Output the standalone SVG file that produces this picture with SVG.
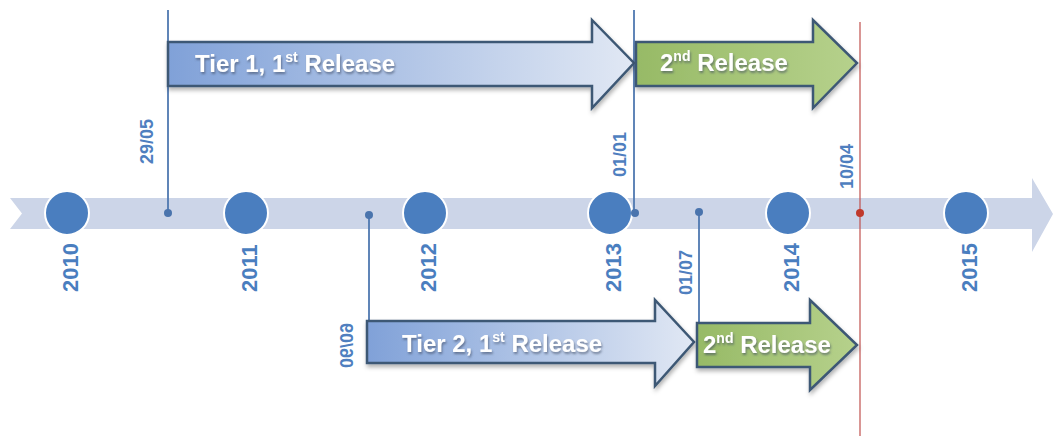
<svg xmlns="http://www.w3.org/2000/svg" width="1053" height="436" viewBox="0 0 1053 436">
<defs>
<linearGradient id="gBlue" x1="0" y1="0" x2="1" y2="0">
<stop offset="0" stop-color="#80a1d8"/>
<stop offset="1" stop-color="#e1e8f4"/>
</linearGradient>
<linearGradient id="gGreen" x1="0" y1="0" x2="1" y2="0">
<stop offset="0" stop-color="#97ba66"/>
<stop offset="1" stop-color="#b6d18c"/>
</linearGradient>
<filter id="shadow" x="-10%" y="-20%" width="120%" height="150%">
<feDropShadow dx="1" dy="3" stdDeviation="2" flood-color="#000" flood-opacity="0.3"/>
</filter>
<filter id="tshadow" x="-10%" y="-30%" width="120%" height="160%">
<feDropShadow dx="1" dy="2" stdDeviation="1.2" flood-color="#3a4a60" flood-opacity="0.6"/>
</filter>
</defs>
<style>
.band{fill:#ccd5e8}
.year{fill:#4a7ebf;stroke:#fff;stroke-width:2}
.ylab{font-family:"Liberation Sans",Arial,sans-serif;font-weight:bold;font-size:22px;fill:#4a7ebf}
.dlab{font-family:"Liberation Sans",Arial,sans-serif;font-weight:bold;font-size:18px;fill:#4f7fbf}
.tick{stroke:#4f78b0;stroke-width:1.8;fill:none}
.dot{fill:#4a74ad}
.red{stroke:#c0504d;stroke-width:1.2;fill:none}
.arrB{fill:url(#gBlue);stroke:#3e5874;stroke-width:2.5;stroke-linejoin:miter;filter:url(#shadow)}
.arrG{fill:url(#gGreen);stroke:#3e5874;stroke-width:2.5;stroke-linejoin:miter;filter:url(#shadow)}
.alab{font-family:"Liberation Sans",Arial,sans-serif;font-weight:bold;font-size:24px;fill:#fff;filter:url(#tshadow)}
</style>
<rect width="1053" height="436" fill="#fff"/>

<g id="timeline">
<polygon class="band" points="10,198 1032,198 1032,178 1053,214 1032,252 1032,229 10,229 22,213.5"/>
</g>

<g id="years">
<g id="y2010"><circle class="year" cx="67" cy="213" r="22"/><text class="ylab" transform="translate(78,292) rotate(-90)">2010</text></g>
<g id="y2011"><circle class="year" cx="246" cy="213" r="22"/><text class="ylab" transform="translate(257,292) rotate(-90)">2011</text></g>
<g id="y2012"><circle class="year" cx="425" cy="213" r="22"/><text class="ylab" transform="translate(436,292) rotate(-90)">2012</text></g>
<g id="y2013"><circle class="year" cx="610" cy="213" r="22"/><text class="ylab" transform="translate(621,292) rotate(-90)">2013</text></g>
<g id="y2014"><circle class="year" cx="788" cy="213" r="22"/><text class="ylab" transform="translate(799,292) rotate(-90)">2014</text></g>
<g id="y2015"><circle class="year" cx="966" cy="213" r="22"/><text class="ylab" transform="translate(977,292) rotate(-90)">2015</text></g>
</g>

<g id="connectors">
<line class="tick" x1="168" y1="10" x2="168" y2="213"/>
<circle class="dot" cx="168" cy="213" r="4"/>
<line class="tick" x1="634" y1="10" x2="634" y2="213"/>
<circle class="dot" cx="635" cy="213" r="4" fill="#2f5a8f"/>
<line class="tick" x1="369" y1="215" x2="369" y2="363"/>
<circle class="dot" cx="369" cy="215" r="4"/>
<line class="tick" x1="699" y1="212" x2="699" y2="323"/>
<circle class="dot" cx="699" cy="212" r="4"/>
<line class="red" x1="860" y1="22" x2="860" y2="436"/>
<circle cx="860" cy="213" r="4" fill="#c0392b"/>
</g>

<g id="dates">
<text class="dlab" transform="translate(153,164) rotate(-90)">29/05</text>
<text class="dlab" transform="translate(626,177) rotate(-90)">01/01</text>
<text class="dlab" transform="translate(853,189) rotate(-90)">10/04</text>
<text class="dlab" transform="translate(692,295) rotate(-90)">01/07</text>
<text class="dlab" transform="translate(340,368) rotate(-90) scale(1,-1)">06/09</text>
</g>

<g id="tier1-first">
<polygon class="arrB" points="168,42 592,42 592,20 634,63 592,108 592,86 168,86"/>
<text class="alab" x="195" y="72">Tier 1, 1<tspan font-size="14" dy="-10">st</tspan><tspan dy="10"> Release</tspan></text>
</g>
<g id="tier1-second">
<polygon class="arrG" points="636,42 813,42 813,20 857,63 813,108 813,86 636,86"/>
<text class="alab" x="660" y="71">2<tspan font-size="14" dy="-10">nd</tspan><tspan dy="10"> Release</tspan></text>
</g>
<g id="tier2-first">
<polygon class="arrB" points="367,321 655,321 655,300 694,342 655,386 655,363 367,363"/>
<text class="alab" x="402" y="352">Tier 2, 1<tspan font-size="14" dy="-10">st</tspan><tspan dy="10"> Release</tspan></text>
</g>
<g id="tier2-second">
<polygon class="arrG" points="697,323 810,323 810,300 857,345 810,390 810,367 697,367"/>
<text class="alab" x="703" y="353">2<tspan font-size="14" dy="-10">nd</tspan><tspan dy="10"> Release</tspan></text>
</g>
</svg>
